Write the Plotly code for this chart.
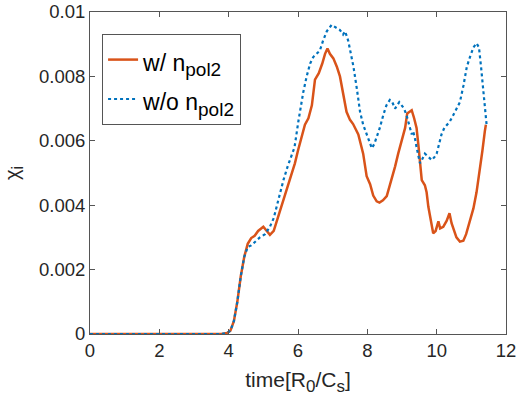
import plotly.graph_objects as go

# w/ n_pol2 (red, solid)
t_with = [0, 3.8, 3.95, 4.05, 4.15, 4.25, 4.35, 4.45, 4.55, 4.65, 4.75, 4.85, 5.0, 5.1, 5.19, 5.3, 5.43,
          5.55, 5.67, 5.8, 5.91, 6.0, 6.1, 6.2, 6.3, 6.4, 6.49, 6.6, 6.7, 6.78, 6.85, 6.92, 7.02, 7.12,
          7.21, 7.3, 7.4, 7.5, 7.59, 7.74, 7.88, 7.98, 8.08, 8.17, 8.27, 8.35, 8.45, 8.56, 8.7, 8.8,
          8.89, 9.0, 9.09, 9.15, 9.22, 9.28, 9.35, 9.42, 9.47, 9.52, 9.57, 9.66, 9.71, 9.76, 9.83, 9.9,
          9.97, 10.05, 10.1, 10.19, 10.29, 10.37, 10.43, 10.5, 10.57, 10.67, 10.77, 10.85, 10.91, 11.0,
          11.06, 11.15, 11.25, 11.32, 11.39, 11.42]
chi_with = [0, 0, 0.00003, 0.0001, 0.0004, 0.001, 0.0018, 0.0024, 0.0028, 0.00298, 0.00305, 0.0032,
            0.00333, 0.0032, 0.00308, 0.0032, 0.00364, 0.0041, 0.00447, 0.0049, 0.0053, 0.0057, 0.0061,
            0.0065, 0.0067, 0.0071, 0.0079, 0.0081, 0.0084, 0.0087, 0.00887, 0.0087, 0.00856, 0.0083,
            0.0080, 0.0075, 0.0069, 0.00665, 0.00652, 0.0062, 0.0056, 0.0049, 0.00465, 0.0043, 0.00412,
            0.00408, 0.00415, 0.00428, 0.00478, 0.0052, 0.0056, 0.0060, 0.0064, 0.00685, 0.0069, 0.00695,
            0.0067, 0.0064, 0.0059, 0.0052, 0.00478, 0.00462, 0.0044, 0.00395, 0.0035, 0.00313, 0.0032,
            0.0035, 0.00328, 0.00333, 0.00352, 0.00375, 0.00344, 0.0032, 0.003, 0.00287, 0.0029, 0.0031,
            0.00333, 0.0036, 0.0039, 0.0044, 0.0051, 0.0057, 0.0063, 0.0065]

# w/o n_pol2 (blue, dotted)
t_without = [0, 3.8, 3.95, 4.05, 4.15, 4.25, 4.35, 4.45, 4.55, 4.65, 4.8, 4.9, 5.05, 5.19, 5.3, 5.38,
             5.48, 5.58, 5.7, 5.8, 5.9, 6.01, 6.08, 6.15, 6.25, 6.35, 6.44, 6.55, 6.63, 6.72, 6.83, 6.97,
             7.1, 7.21, 7.3, 7.36, 7.45, 7.52, 7.6, 7.7, 7.79, 7.88, 7.98, 8.05, 8.13, 8.2, 8.27, 8.36,
             8.46, 8.55, 8.65, 8.72, 8.8, 8.85, 8.92, 8.99, 9.06, 9.13, 9.2, 9.28, 9.32, 9.37, 9.42, 9.47,
             9.52, 9.57, 9.66, 9.76, 9.86, 9.94, 10.0, 10.07, 10.14, 10.22, 10.29, 10.38, 10.48, 10.58,
             10.67, 10.77, 10.87, 10.96, 11.06, 11.15, 11.22, 11.28, 11.35, 11.4, 11.44]
chi_without = [0, 0, 0.00003, 0.0001, 0.0004, 0.001, 0.0018, 0.0024, 0.0027, 0.00275, 0.0029, 0.003,
               0.0031, 0.00333, 0.0036, 0.00395, 0.0044, 0.00478, 0.0052, 0.0055, 0.0058, 0.0066, 0.0071,
               0.0075, 0.0080, 0.0084, 0.0086, 0.0087, 0.0088, 0.0091, 0.0094, 0.0096, 0.0095, 0.00944,
               0.0093, 0.0094, 0.0091, 0.0087, 0.0083, 0.0076, 0.0069, 0.0065, 0.0062, 0.0060, 0.00577,
               0.0059, 0.0061, 0.0064, 0.0068, 0.0071, 0.00727, 0.0072, 0.0070, 0.0071, 0.0072, 0.0071,
               0.0070, 0.0068, 0.0065, 0.0062, 0.0063, 0.0061, 0.0058, 0.0055, 0.0053, 0.0054, 0.0056,
               0.0055, 0.0054, 0.0055, 0.0056, 0.0059, 0.0062, 0.0064, 0.0065, 0.0066, 0.0068, 0.0070,
               0.0072, 0.0077, 0.0083, 0.0086, 0.0089, 0.00903, 0.0089, 0.0083, 0.0076, 0.0070, 0.0065]

x_ticks = [0, 2, 4, 6, 8, 10, 12]
y_ticks = [0, 0.002, 0.004, 0.006, 0.008, 0.01]
y_tick_labels = ["0", "0.002", "0.004", "0.006", "0.008", "0.01"]

FONT = "Liberation Sans, Arial, Helvetica, sans-serif"
AX = "#555555"
TXT = "#262626"


def sub(text, size):
    return "<sub><span style='font-size:%dpx'>%s</span></sub>" % (size, text)


def main(text, size):
    return "<span style='font-size:%dpx'>%s</span>" % (size, text)


fig = go.Figure()
fig.add_trace(go.Scatter(x=t_with, y=chi_with, mode="lines",
                         name=main("w/ n", 23) + sub("pol2", 19),
                         line=dict(color="#D95319", width=2.5)))
fig.add_trace(go.Scatter(x=t_without, y=chi_without, mode="lines",
                         name=main("w/o n", 23) + sub("pol2", 19),
                         line=dict(color="#0072BD", width=2.2, dash="dot")))

fig.update_layout(
    width=520, height=405,
    margin=dict(l=90, r=14, t=12, b=71),
    paper_bgcolor="white", plot_bgcolor="white",
    font=dict(family=FONT, size=18, color=TXT),
    showlegend=True,
    legend=dict(x=0.029, y=0.932, xanchor="left", yanchor="top",
                bgcolor="white", bordercolor=AX, borderwidth=1,
                font=dict(size=28, color="black"), tracegroupgap=0,
                itemwidth=30),
)
fig.update_xaxes(range=[0, 12], tickvals=x_ticks, ticks="inside", ticklen=5, tickcolor=AX,
                 showline=True, linecolor=AX, linewidth=1, mirror="ticks", showgrid=False,
                 zeroline=False, automargin=False, tickfont=dict(size=18.5, color=TXT),
                 title=dict(text="time[R" + sub("0", 17) + "/C" + sub("s", 17) + "]",
                            font=dict(size=21, color=TXT), standoff=12))
fig.update_yaxes(range=[0, 0.01], tickvals=y_ticks, ticktext=y_tick_labels, ticks="inside", ticklen=5,
                 tickcolor=AX, showline=True, linecolor=AX, linewidth=1, mirror="ticks",
                 showgrid=False, zeroline=False, automargin=False, tickfont=dict(size=18.5, color=TXT),
                 title=dict(text="χ" + sub("i", 16), font=dict(size=20, color=TXT), standoff=14))

fig.write_html("out.html", config={"displayModeBar": False},
               post_script="document.body.style.margin='0';")
